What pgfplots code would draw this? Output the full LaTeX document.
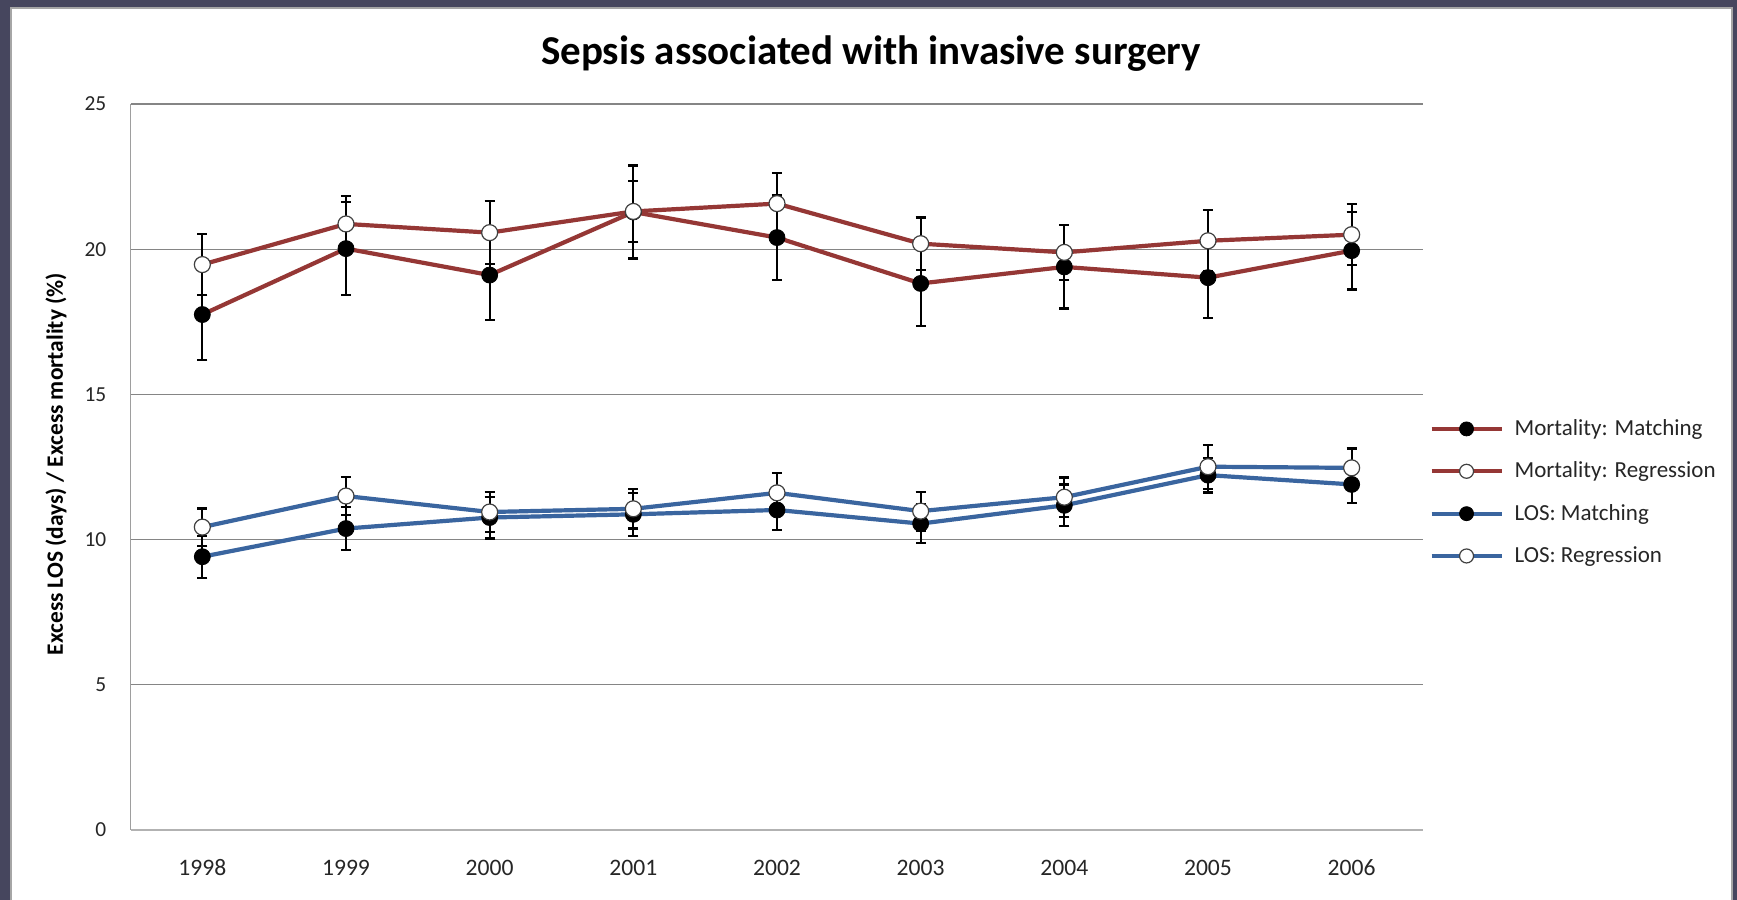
\documentclass[border=0pt]{standalone}
\usepackage{pgfplots}
\pgfplotsset{compat=1.18}
\usepackage{fontspec}
\setmainfont{Carlito}
\definecolor{frame}{HTML}{46465E}
\definecolor{mred}{HTML}{953735}
\definecolor{mblue}{HTML}{3A659F}
\begin{document}
\begin{tikzpicture}
\fill[frame] (0,0) rectangle (868.5pt,450pt);
\fill[white] (5pt,0pt) rectangle (866.5pt,446.25pt);
\draw[black!35, line width=0.8pt] (5.4pt,-1pt) -- (5.4pt,445.85pt) -- (866.1pt,445.85pt) -- (866.1pt,-1pt);
\begin{axis}[
  at={(65.25pt,35pt)}, anchor=south west,
  scale only axis, width=646.5pt, height=363pt,
  xmin=-0.5, xmax=8.5, ymin=0, ymax=25,
  xtick={0,...,8},
  xticklabels={1998,1999,2000,2001,2002,2003,2004,2005,2006},
  ytick={0,5,...,25},
  /pgf/number format/assume math mode=true,
  axis lines*=left,
  x axis line style={black!30, line width=1.3pt},
  y axis line style={black!38, line width=0.6pt},
  major tick length=0pt,
  ymajorgrids,
  major grid style={black!48, line width=0.6pt},
  xticklabel style={anchor=base, inner sep=0pt, yshift=-22.85pt, font=\fontsize{11.8}{14}\selectfont, text=black!85},
  yticklabel style={anchor=east, inner sep=0pt, xshift=-11.9pt, font=\fontsize{10.7}{13}\selectfont, text=black!85},
  title={Sepsis associated with invasive surgery},
  title style={at={(axis description cs:0.5727,1.0551)}, anchor=base, yshift=-6.2pt, inner sep=0pt, font=\fontsize{20.5}{24}\selectfont\bfseries},
  ylabel={Excess LOS (days) / Excess mortality (\%)},
  ylabel style={at={(axis description cs:-0.0576,0.504)}, anchor=center, inner sep=0pt, font=\fontsize{11.7}{14}\selectfont\bfseries},
  legend style={at={(axis description cs:1.0043,0.465)}, anchor=west, draw=none, fill=none, inner sep=0pt,
    row sep=11.7pt, nodes={inner sep=0pt, anchor=west}, font=\fontsize{11.5}{13}\selectfont, text=black!85},
  legend cell align=left,
  /tikz/every odd column/.append style={column sep=5.5pt},
  legend image code/.code={\draw[mark repeat=2,mark phase=2,#1,mark size=3.5pt] plot coordinates {(0pt,0pt)(17.5pt,0pt)(35pt,0pt)};},
  every axis plot/.append style={line width=2.1pt},
  error bars/y dir=both, error bars/y explicit,
  error bars/error bar style={black, line width=1.1pt},
  error bars/error mark options={rotate=90, black, mark size=2.5pt, line width=1.1pt},
]
\addplot[mred, mark=*, mark size=4pt, mark options={fill=black, draw=black, line width=0.4pt}]
  coordinates {
  (0,17.75) +- (0,1.57)
  (1,20.02) +- (0,1.60)
  (2,19.11) +- (0,1.56)
  (3,21.28) +- (0,1.60)
  (4,20.40) +- (0,1.45)
  (5,18.82) +- (0,1.46)
  (6,19.39) +- (0,1.43)
  (7,19.02) +- (0,1.40)
  (8,19.95) +- (0,1.34)
  };
\addlegendentry{Mortality: Matching}
\addplot[mred, mark=*, mark size=4pt, mark options={fill=white, draw=black!75, line width=0.6pt}]
  coordinates {
  (0,19.47) +- (0,1.04)
  (1,20.87) +- (0,0.97)
  (2,20.57) +- (0,1.08)
  (3,21.30) +- (0,1.06)
  (4,21.57) +- (0,1.04)
  (5,20.19) +- (0,0.90)
  (6,19.89) +- (0,0.95)
  (7,20.29) +- (0,1.05)
  (8,20.50) +- (0,1.05)
  };
\addlegendentry{Mortality: Regression}
\addplot[mblue, mark=*, mark size=4pt, mark options={fill=black, draw=black, line width=0.4pt}]
  coordinates {
  (0,9.41) +- (0,0.72)
  (1,10.38) +- (0,0.75)
  (2,10.76) +- (0,0.72)
  (3,10.87) +- (0,0.74)
  (4,11.02) +- (0,0.69)
  (5,10.55) +- (0,0.66)
  (6,11.18) +- (0,0.72)
  (7,12.22) +- (0,0.60)
  (8,11.90) +- (0,0.63)
  };
\addlegendentry{LOS: Matching}
\addplot[mblue, mark=*, mark size=4pt, mark options={fill=white, draw=black!75, line width=0.6pt}]
  coordinates {
  (0,10.43) +- (0,0.64)
  (1,11.50) +- (0,0.65)
  (2,10.95) +- (0,0.70)
  (3,11.06) +- (0,0.68)
  (4,11.61) +- (0,0.69)
  (5,10.98) +- (0,0.67)
  (6,11.46) +- (0,0.68)
  (7,12.51) +- (0,0.76)
  (8,12.47) +- (0,0.67)
  };
\addlegendentry{LOS: Regression}
\end{axis}
\pgfresetboundingbox
\useasboundingbox (0,0) rectangle (868.5pt,450pt);
\end{tikzpicture}
\end{document}
